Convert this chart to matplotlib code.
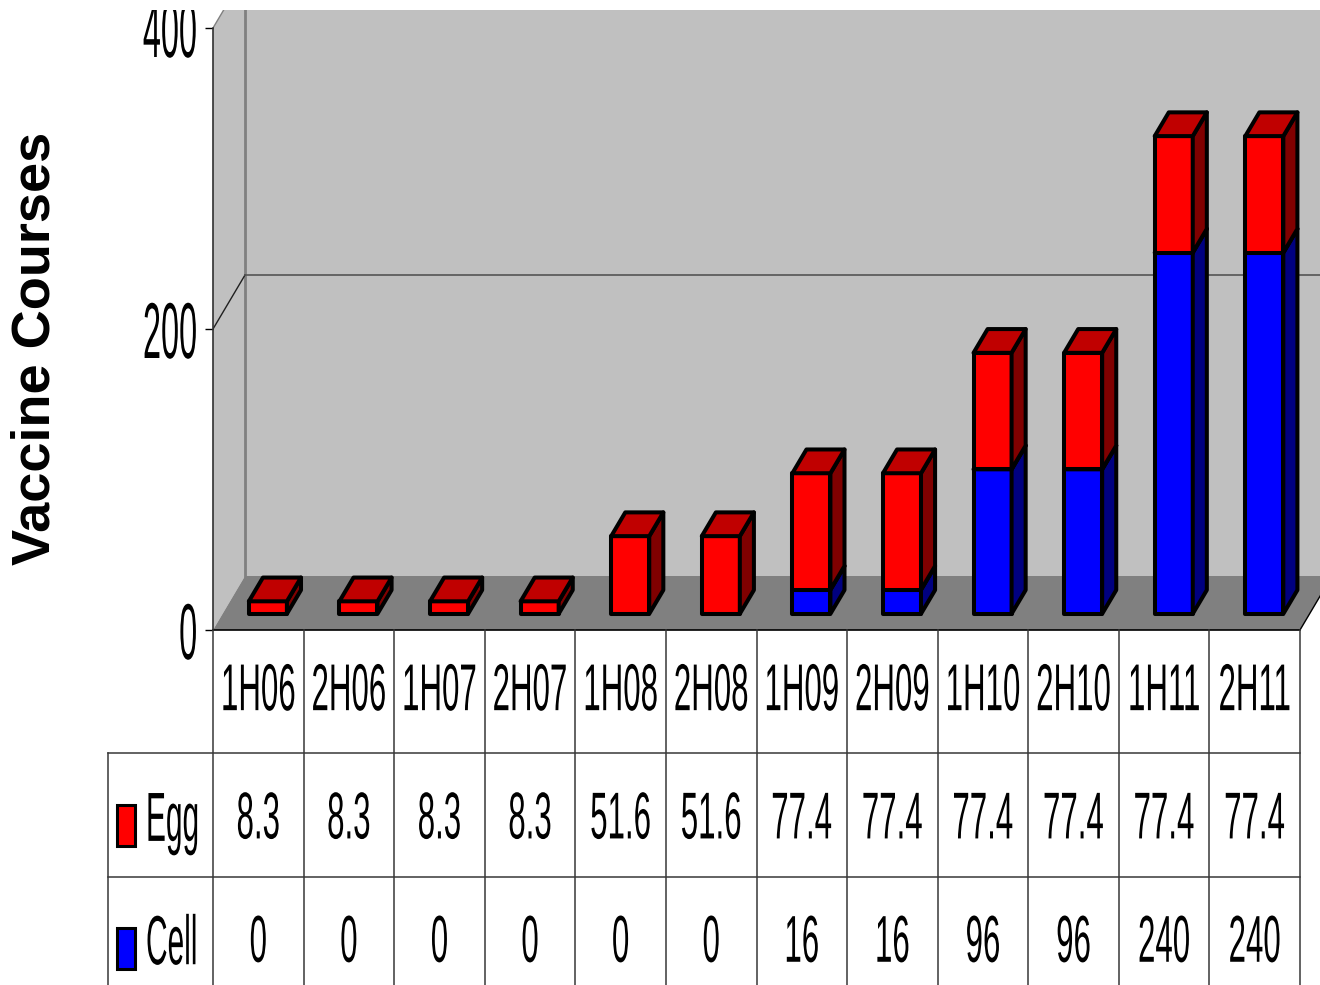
import matplotlib
matplotlib.use("Agg")
import matplotlib.pyplot as plt
from matplotlib.patches import Polygon, Rectangle
from matplotlib.patheffects import AbstractPathEffect
from matplotlib.transforms import Affine2D

# data
periods = ['1H06', '2H06', '1H07', '2H07', '1H08', '2H08',
           '1H09', '2H09', '1H10', '2H10', '1H11', '2H11']
egg = [8.3, 8.3, 8.3, 8.3, 51.6, 51.6, 77.4, 77.4, 77.4, 77.4, 77.4, 77.4]
cell = [0, 0, 0, 0, 0, 0, 16, 16, 96, 96, 240, 240]
series = [('Egg', egg), ('Cell', cell)]
yticks = [0, 200, 400]

# colours: front, side, top
RED = ('#ff0000', '#800000', '#c00000')
BLUE = ('#0000ff', '#000080', '#0000c0')

W, H = 1320, 985
COL = (1300 - 213) / 12      # px per category
PX = 602 / 400               # px per vaccine course
DX = 32 / COL                # depth shift of the back wall
DY = 54 / PX
F0, F1 = 0.30, 0.74          # bar front / back depth
BW = 0.42                    # bar width


class Squeeze(AbstractPathEffect):
    """Draw text narrower than the font, keeping one edge fixed."""
    def __init__(self, sx, anchor='center'):
        super().__init__()
        self.sx = sx
        self.anchor = anchor

    def draw_path(self, renderer, gc, tpath, affine, rgbFace=None):
        bb = tpath.get_extents(affine)
        x0 = {'center': 0.5 * (bb.x0 + bb.x1), 'left': bb.x0, 'right': bb.x1}[self.anchor]
        t = affine + Affine2D().translate(-x0, 0).scale(self.sx, 1).translate(x0, 0)
        renderer.draw_path(gc, tpath, t, rgbFace)


class Tall(AbstractPathEffect):
    """Draw glyphs taller than the font size, stretched up from the baseline."""
    def __init__(self, sy):
        super().__init__()
        self.sy = sy

    def draw_path(self, renderer, gc, tpath, affine, rgbFace=None):
        renderer.draw_path(gc, tpath, Affine2D().scale(1, self.sy) + affine, rgbFace)


def fig_rect(x0, y0, x1, y1):
    return [x0 / W, 1 - y1 / H, (x1 - x0) / W, (y1 - y0) / H]


def p(x, v, d):
    return (x + d * DX, v + d * DY)


plt.rcParams['font.family'] = ['Liberation Sans', 'DejaVu Sans']
fig = plt.figure(figsize=(W / 100, H / 100), dpi=100)

# ---- chart area ----
ax = fig.add_axes(fig_rect(213, 10, 1320, 630))
n = len(periods)
ax.set_xlim(0, (1320 - 213) / COL)
ax.set_ylim(0, 620 / PX)
ax.set_facecolor('none')
for s in ['top', 'right']:
    ax.spines[s].set_visible(False)
ax.spines['left'].set_bounds(0, 400)
ax.spines['bottom'].set_bounds(0, n)
ax.spines['left'].set_color('#303030')
ax.spines['left'].set_linewidth(1.2)
ax.spines['bottom'].set_linewidth(1.2)
ax.set_xticks([])
ax.set_yticks(yticks)
ax.set_yticklabels([str(t) for t in yticks], fontsize=57)
ax.tick_params(axis='y', length=6, width=1, pad=4)

top = max(yticks)
# walls and floor
ax.add_patch(Polygon([p(0, 0, 0), p(0, 0, 1), p(0, top, 1), p(0, top, 0)],
                     closed=True, fc='#c0c0c0', ec='none', zorder=0))
ax.add_patch(Polygon([p(0, 0, 1), p(n + 2, 0, 1), p(n + 2, top, 1), p(0, top, 1)],
                     closed=True, fc='#c0c0c0', ec='none', zorder=0))
ax.add_patch(Polygon([p(0, 0, 0), p(n, 0, 0), p(n, 0, 1), p(0, 0, 1)],
                     closed=True, fc='#808080', ec='none', zorder=0.5))
ax.plot(*zip(p(n, 0, 0), p(n, 0, 1)), color='black', lw=1, zorder=1)
ax.plot(*zip(p(0, 0, 1), p(0, top, 1)), color='#808080', lw=2, zorder=1)
for t in yticks[1:]:
    ax.plot(*zip(p(0, t, 0), p(0, t, 1)), color='#202020' if t < top else '#808080',
            lw=1, zorder=1)
    ax.plot(*zip(p(0, t, 1), p(n + 2, t, 1)), color='#555555', lw=1.2, zorder=1)

# stacked 3D bars
for i in range(n):
    xl = i + 0.5 - BW / 2
    xr = xl + BW
    base = 0
    for vals, cols in [(cell, BLUE), (egg, RED)]:
        v = vals[i]
        if v <= 0:
            continue
        v0, v1 = base, base + v
        faces = [
            ([p(xl, v0, F0), p(xr, v0, F0), p(xr, v1, F0), p(xl, v1, F0)], cols[0]),
            ([p(xr, v0, F0), p(xr, v0, F1), p(xr, v1, F1), p(xr, v1, F0)], cols[1]),
            ([p(xl, v1, F0), p(xr, v1, F0), p(xr, v1, F1), p(xl, v1, F1)], cols[2]),
        ]
        for pts, c in faces:
            ax.add_patch(Polygon(pts, closed=True, fc=c, ec='black', lw=2.9,
                                 joinstyle='round', zorder=3))
        base = v1

clip = fig.bbox.frozen()
clip.y1 = clip.y1 - 10
for lbl in ax.get_yticklabels():
    lbl.set_path_effects([Squeeze(0.41, 'right')])
    lbl.set_clip_box(clip)
    lbl.set_clip_on(True)

# ---- data table ----
tb = fig.add_axes(fig_rect(213, 630, 1300, 1000))
tb.set_xlim(0, n)
tb.set_ylim(3, 0)
tb.axis('off')
line = dict(color='#383838', lw=1.1, clip_on=False)
x_left = (108 - 213) / COL
for r in [1, 2]:
    tb.plot([x_left, n], [r, r], **line)
tb.plot([x_left, x_left], [1, 3], **line)
for i in range(n + 1):
    tb.plot([i, i], [0, 3], **line)

txt = dict(fontsize=22.5, ha='center', va='baseline', clip_on=False,
           path_effects=[Tall(2.12)])
for i, lab in enumerate(periods):
    tb.text(i + 0.5, 0.65, lab, **txt)
for r, (name, vals) in enumerate(series, start=1):
    for i, v in enumerate(vals):
        tb.text(i + 0.5, r + 0.69, f'{v:g}', **txt)

key_x = (117 - 213) / COL
for r, (name, cols) in enumerate([('Egg', RED), ('Cell', BLUE)], start=1):
    tb.add_patch(Rectangle((key_x, r + 0.42), 18 / COL, 0.33, fc=cols[0], ec='black',
                           lw=2.2, clip_on=False))
    tb.text((146 - 213) / COL, r + 0.71, name, fontsize=21.5, ha='left', va='baseline',
            path_effects=[Tall(2.33)], clip_on=False)

fig.text(36 / W, 1 - 348 / H, 'Vaccine Courses', rotation=90, fontsize=39,
         fontweight='bold', ha='center', va='center')

fig.savefig('out.png', dpi=100)
